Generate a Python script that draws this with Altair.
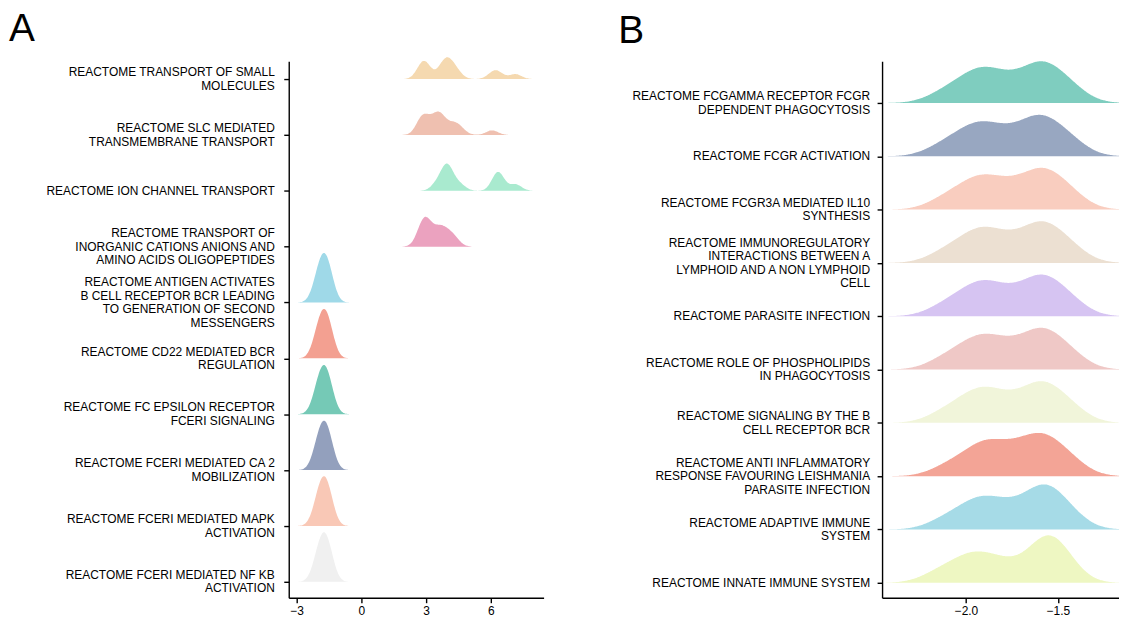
import altair as alt
import pandas as pd

FONT = "Liberation Sans, Arial, sans-serif"

# ---------------- Panel A ----------------
A_labels = [
    "REACTOME TRANSPORT OF SMALL\nMOLECULES",
    "REACTOME SLC MEDIATED\nTRANSMEMBRANE TRANSPORT",
    "REACTOME ION CHANNEL TRANSPORT",
    "REACTOME TRANSPORT OF\nINORGANIC CATIONS ANIONS AND\nAMINO ACIDS OLIGOPEPTIDES",
    "REACTOME ANTIGEN ACTIVATES\nB CELL RECEPTOR BCR LEADING\nTO GENERATION OF SECOND\nMESSENGERS",
    "REACTOME CD22 MEDIATED BCR\nREGULATION",
    "REACTOME FC EPSILON RECEPTOR\nFCERI SIGNALING",
    "REACTOME FCERI MEDIATED CA 2\nMOBILIZATION",
    "REACTOME FCERI MEDIATED MAPK\nACTIVATION",
    "REACTOME FCERI MEDIATED NF KB\nACTIVATION",
]
A_values = [
    [2.75, 2.85, 2.95, 3.05, 3.7, 3.85, 3.95, 4.05, 4.2, 4.45, 6.1, 6.35, 7.15],
    [2.75, 2.8, 2.85, 2.95, 3.2, 3.45, 3.55, 3.6, 3.65, 3.85, 4.2, 4.35, 4.6, 6.06],
    [3.5, 3.9, 3.95, 4.0, 4.05, 4.55, 6.28, 6.34, 6.4, 7.15],
    [2.75, 2.88, 3.0, 3.12, 3.5, 3.7, 3.95, 4.3],
    [-2.12, -2.0, -1.95, -1.9, -1.85, -1.78, -1.68, -1.62, -1.59, -1.56, -1.5, -1.42],
    [-2.12, -2.0, -1.95, -1.9, -1.84, -1.77, -1.68, -1.62, -1.59, -1.55, -1.5, -1.42],
    [-2.13, -2.01, -1.96, -1.91, -1.85, -1.78, -1.68, -1.63, -1.6, -1.56, -1.5, -1.42],
    [-2.12, -2.0, -1.95, -1.9, -1.85, -1.78, -1.68, -1.62, -1.59, -1.56, -1.5, -1.42],
    [-2.11, -2.0, -1.95, -1.9, -1.85, -1.78, -1.69, -1.62, -1.59, -1.56, -1.5, -1.43],
    [-2.12, -2.0, -1.95, -1.9, -1.85, -1.78, -1.68, -1.62, -1.59, -1.56, -1.5, -1.42],
]
A_colors = ["#F5D9B0", "#EFC0B0", "#A9EACF", "#EBA2BF", "#9FD9E8",
            "#F3A091", "#75C9B6", "#93A0BD", "#F9C8B6", "#F0F0F0"]
A_ticks = [-3, 0, 3, 6]

# ---------------- Panel B ----------------
B_labels = [
    "REACTOME FCGAMMA RECEPTOR FCGR\nDEPENDENT PHAGOCYTOSIS",
    "REACTOME FCGR ACTIVATION",
    "REACTOME FCGR3A MEDIATED IL10\nSYNTHESIS",
    "REACTOME IMMUNOREGULATORY\nINTERACTIONS BETWEEN A\nLYMPHOID AND A NON LYMPHOID\nCELL",
    "REACTOME PARASITE INFECTION",
    "REACTOME ROLE OF PHOSPHOLIPIDS\nIN PHAGOCYTOSIS",
    "REACTOME SIGNALING BY THE B\nCELL RECEPTOR BCR",
    "REACTOME ANTI INFLAMMATORY\nRESPONSE FAVOURING LEISHMANIA\nPARASITE INFECTION",
    "REACTOME ADAPTIVE IMMUNE\nSYSTEM",
    "REACTOME INNATE IMMUNE SYSTEM",
]
B_values = [
    [-2.12, -2.0, -1.95, -1.9, -1.85, -1.78, -1.68, -1.62, -1.59, -1.56, -1.5, -1.42],
    [-2.13, -2.01, -1.96, -1.91, -1.85, -1.78, -1.68, -1.63, -1.6, -1.56, -1.5, -1.42],
    [-2.12, -2.0, -1.95, -1.9, -1.84, -1.77, -1.68, -1.62, -1.59, -1.55, -1.5, -1.42],
    [-2.12, -2.0, -1.95, -1.9, -1.85, -1.78, -1.68, -1.62, -1.59, -1.56, -1.5, -1.42],
    [-2.12, -2.0, -1.95, -1.9, -1.85, -1.78, -1.68, -1.62, -1.59, -1.56, -1.5, -1.42],
    [-2.12, -2.0, -1.95, -1.9, -1.84, -1.78, -1.68, -1.62, -1.59, -1.56, -1.5, -1.42],
    [-2.12, -2.0, -1.95, -1.9, -1.85, -1.78, -1.68, -1.62, -1.59, -1.56, -1.5, -1.42],
    [-2.1, -1.97, -1.92, -1.88, -1.82, -1.75, -1.68, -1.62, -1.59, -1.56, -1.5, -1.42],
    [-2.12, -2.0, -1.95, -1.9, -1.85, -1.78, -1.7, -1.62, -1.59, -1.57, -1.54, -1.5, -1.42],
    [-2.15, -2.03, -1.97, -1.92, -1.84, -1.76, -1.62, -1.58, -1.56, -1.54, -1.5, -1.45],
]
B_colors = ["#7FCDBF", "#98A7C1", "#F9CDBF", "#ECE0D2", "#D6C4F2",
            "#EFC8C6", "#F1F5DA", "#F3A496", "#A6DBE7", "#EEF7C2"]
B_ticks = [-2.0, -1.5]


def long_table(labels, values):
    n = len(labels)
    rows = []
    for i, (lab, vals) in enumerate(zip(labels, values)):
        for v in vals:
            rows.append({"pathway": lab, "pos": n - 1 - i, "val": v})
    return pd.DataFrame(rows)


def label_table(labels):
    n = len(labels)
    return pd.DataFrame({"pathway": labels, "pos": [n - 1 - i for i in range(n)]})


def ridge_panel(labels, values, colors, ticks, bw, xdom, ydom, width, height,
                label_x, letter, letter_x, letter_y, tick_fmt, line_h):
    df = long_table(labels, values)
    n = len(labels)
    px_per_unit = height / (ydom[1] - ydom[0])
    half_line = 0.5 * line_h / px_per_unit
    xscale = alt.Scale(domain=xdom, nice=False, zero=False)
    yscale = alt.Scale(domain=ydom, nice=False, zero=False)
    yaxis = alt.Axis(values=list(range(n)), labels=False, grid=False,
                     domainColor="black", domainWidth=1.4,
                     tickColor="black", tickWidth=1.4, tickSize=5)
    area = (
        alt.Chart(df)
        .transform_density("val", groupby=["pathway", "pos"], bandwidth=bw,
                           extent=xdom, steps=300, as_=["val", "density"])
        .transform_joinaggregate(maxd="max(density)")
        .transform_filter("datum.density / datum.maxd > 0.002")
        .transform_calculate(top="datum.pos + datum.density / datum.maxd * 0.89")
        .mark_area(interpolate="monotone", opacity=1)
        .encode(
            x=alt.X("val:Q", scale=xscale, title=None,
                    axis=alt.Axis(values=ticks, format=tick_fmt, grid=False,
                                  domainColor="black", domainWidth=1.4,
                                  tickColor="black", tickWidth=1.4, tickSize=5,
                                  labelColor="black", labelFontSize=12,
                                  labelFont=FONT, labelPadding=3)),
            y=alt.Y("top:Q", scale=yscale, title=None, stack=None, axis=yaxis),
            y2="pos:Q",
            color=alt.Color("pathway:N", scale=alt.Scale(domain=labels, range=colors),
                            legend=None),
        )
    )
    text = (
        alt.Chart(label_table(labels))
        .transform_calculate(
            ylab=f"datum.pos + (length(split(datum.pathway, '\\n')) - 1) * {half_line}"
        )
        .mark_text(align="right", baseline="middle", lineBreak="\n", fontSize=12,
                   font=FONT, lineHeight=line_h, color="black")
        .encode(x=alt.value(label_x), y=alt.Y("ylab:Q", scale=yscale, axis=None),
                text="pathway:N")
    )
    let = (
        alt.Chart(pd.DataFrame({"t": [letter]}))
        .mark_text(align="left", baseline="alphabetic", fontSize=39, font=FONT,
                   color="black")
        .encode(x=alt.value(letter_x), y=alt.value(letter_y), text="t:N")
    )
    return (
        alt.layer(area, text, let)
        .resolve_axis(y="independent")
        .properties(width=width, height=height,
                    view=alt.ViewBackground(stroke="transparent", strokeWidth=0))
    )


panelA = ridge_panel(A_labels, A_values, A_colors, A_ticks, 0.28,
                     [-3.37, 8.45], [-0.285, 9.321], 256, 539,
                     -14, "A", -281, -20, "d", 13.5)
panelB = ridge_panel(B_labels, B_values, B_colors, B_ticks, 0.1,
                     [-2.456, -1.168], [-0.28, 9.784], 238, 539,
                     -12, "B", -265, -18, ".1f", 13.5)

chart = (
    alt.hconcat(panelA, panelB, spacing=340, bounds="flush")
    .resolve_scale(color="independent", x="independent", y="independent")
    .properties(padding={"left": 1, "top": 1, "right": 0, "bottom": 0})
    .configure_view(strokeWidth=0, stroke="transparent")
    .configure(background="white")
)

chart.save("out.html", embed_options={"renderer": "svg", "actions": False})
